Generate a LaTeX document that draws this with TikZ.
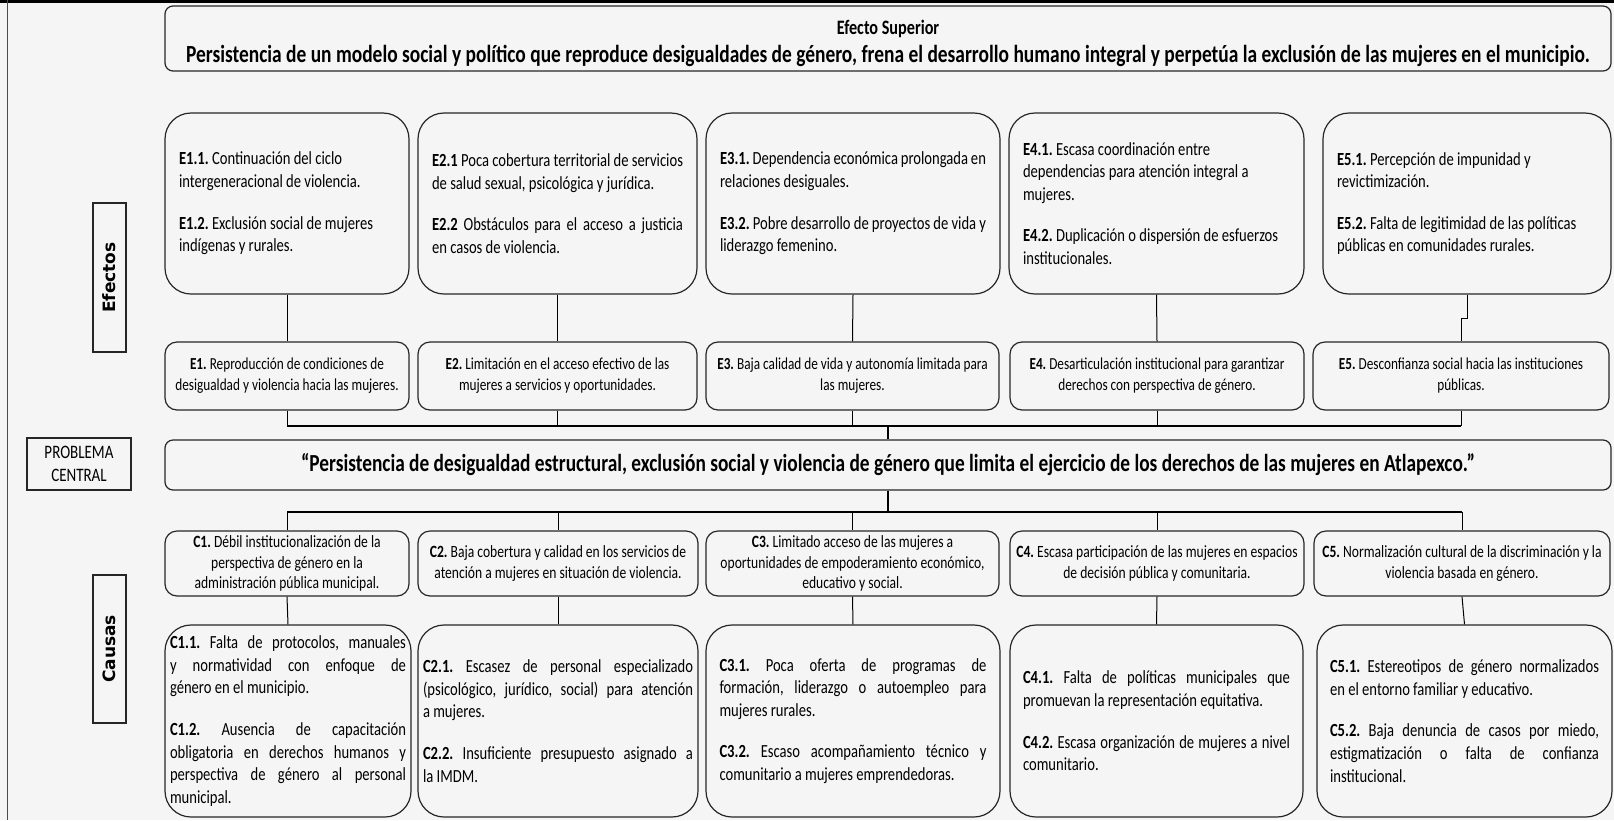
\documentclass[tikz,border=0pt]{standalone}
\usepackage{fontspec}
\setmainfont{Carlito}[FakeStretch=0.79]
\newfontfamily\sidefont{DejaVu Sans}
\setlength{\parindent}{0pt}
\frenchspacing
\newcommand{\gap}{\par\vspace{19pt}}
\tikzset{
  frame/.style={draw=black!85, line width=1.2pt, inner sep=0pt},
  widebox/.style={frame, rounded corners=8pt, minimum width=1446pt, text width=1430pt, align=flush center, font=\bfseries},
  subbox/.style={frame, rounded corners=26pt, align=justify, font=\fontsize{18.5}{22.6}\selectfont},
  rowbox/.style={frame, rounded corners=12pt, align=flush center, font=\fontsize{17.2}{20.8}\selectfont},
  effrow/.style={rowbox, minimum height=68pt, font=\fontsize{16.8}{21}\selectfont},
  sidebox/.style={frame, rotate=90, minimum height=33pt, font=\sidefont\bfseries\fontsize{17}{20}\selectfont},
  link/.style={black, line width=1pt},
  bar/.style={black, line width=2.6pt},
}
\begin{document}
\begin{tikzpicture}[x=1pt,y=-1pt]
  \useasboundingbox (0,0) rectangle (1614,820);
  \fill[black!4] (0,0) rectangle (1614,820);
  \fill[black] (0,0) rectangle (1614,3);
  \draw[black!70, line width=1pt] (7,0) -- (7,820);
  %% efecto superior
  \node[widebox, minimum height=65pt] (sup) at (888,38.5)
    {{\fontsize{20.5}{24}\selectfont\rule{0pt}{24pt}Efecto Superior\par}
     {\fontsize{24.6}{28}\selectfont Persistencia de un modelo social y político que reproduce desigualdades de género, frena el desarrollo humano integral y perpetúa la exclusión de las mujeres en el municipio.\par}};
  %% side labels
  \node[sidebox, minimum width=149pt] (lefx) at (109.5,277.5) {Efectos};
  \node[sidebox, minimum width=148pt] (lcau) at (109.5,649) {Causas};
  \node[frame, minimum width=104pt, minimum height=52pt, align=center, font=\fontsize{19}{23}\selectfont] (lprob) at (79,464) {PROBLEMA\\CENTRAL};
  %% efectos indirectos
  \node[subbox, minimum width=244pt, minimum height=181pt, text width=216pt] (ei1) at (287,203.5)
    {\textbf{E1.1.} Continuación del ciclo\\ intergeneracional de violencia.\gap
     \textbf{E1.2.} Exclusión social de mujeres\\ indígenas y rurales.};
  \node[subbox, minimum width=279pt, minimum height=181pt, text width=251pt] (ei2) at (557.5,203.5)
    {\textbf{E2.1} Poca cobertura territorial de servicios\\ de salud sexual, psicológica y jurídica.\gap
     \textbf{E2.2} Obstáculos para el acceso a justicia\linebreak en casos de violencia.};
  \node[subbox, minimum width=294pt, minimum height=181pt, text width=266pt] (ei3) at (853,203.5)
    {\textbf{E3.1.} Dependencia económica prolongada en\\ relaciones desiguales.\gap
     \textbf{E3.2.} Pobre desarrollo de proyectos de vida y\\ liderazgo femenino.};
  \node[subbox, minimum width=295pt, minimum height=181pt, text width=267pt] (ei4) at (1156.5,203.5)
    {\textbf{E4.1.} Escasa coordinación entre\\ dependencias para atención integral a\\ mujeres.\gap
     \textbf{E4.2.} Duplicación o dispersión de esfuerzos\\ institucionales.};
  \node[subbox, minimum width=288pt, minimum height=181pt, text width=260pt] (ei5) at (1467,203.5)
    {\textbf{E5.1.} Percepción de impunidad y\\ revictimización.\gap
     \textbf{E5.2.} Falta de legitimidad de las políticas\\ públicas en comunidades rurales.};
  %% efectos directos
  \node[effrow, minimum width=244pt, text width=238pt] (ed1) at (287,376)
    {\textbf{E1.} Reproducción de condiciones de\\ desigualdad y violencia hacia las mujeres.};
  \node[effrow, minimum width=279pt, text width=271pt] (ed2) at (557.5,376)
    {\textbf{E2.} Limitación en el acceso efectivo de las\\ mujeres a servicios y oportunidades.};
  \node[effrow, minimum width=293pt, text width=287pt] (ed3) at (852.5,376)
    {\textbf{E3.} Baja calidad de vida y autonomía limitada para\\ las mujeres.};
  \node[effrow, minimum width=294pt, text width=286pt] (ed4) at (1157,376)
    {\textbf{E4.} Desarticulación institucional para garantizar\\ derechos con perspectiva de género.};
  \node[effrow, minimum width=296pt, text width=288pt] (ed5) at (1461,376)
    {\textbf{E5.} Desconfianza social hacia las instituciones\\ públicas.};
  %% problema central
  \node[widebox, minimum height=50pt, font=\bfseries\fontsize{24.5}{29}\selectfont] (prob) at (888,465)
    {“Persistencia de desigualdad estructural, exclusión social y violencia de género que limita el ejercicio de los derechos de las mujeres en Atlapexco.”};
  %% causas directas
  \node[rowbox, minimum width=244pt, minimum height=65pt, text width=238pt] (cd1) at (287,563.5)
    {\textbf{C1.} Débil institucionalización de la\\ perspectiva de género en la\\ administración pública municipal.};
  \node[rowbox, minimum width=280pt, minimum height=65pt, text width=274pt] (cd2) at (558,563.5)
    {\textbf{C2.} Baja cobertura y calidad en los servicios de\\ atención a mujeres en situación de violencia.};
  \node[rowbox, minimum width=293pt, minimum height=65pt, text width=287pt] (cd3) at (852.5,563.5)
    {\textbf{C3.} Limitado acceso de las mujeres a\\ oportunidades de empoderamiento económico,\\ educativo y social.};
  \node[rowbox, minimum width=294pt, minimum height=65pt, text width=288pt] (cd4) at (1157,563.5)
    {\textbf{C4.} Escasa participación de las mujeres en espacios\\ de decisión pública y comunitaria.};
  \node[rowbox, minimum width=296pt, minimum height=65pt, text width=290pt] (cd5) at (1462,563.5)
    {\textbf{C5.} Normalización cultural de la discriminación y la\\ violencia basada en género.};
  %% causas indirectas
  \node[subbox, minimum width=246pt, minimum height=192pt, text width=236pt] (ci1) at (288,721)
    {\textbf{C1.1.} Falta de protocolos, manuales\linebreak y normatividad con enfoque de\linebreak género en el municipio.\gap
     \textbf{C1.2.} Ausencia de capacitación\linebreak obligatoria en derechos humanos y\linebreak perspectiva de género al personal\linebreak municipal.};
  \node[subbox, minimum width=280pt, minimum height=192pt, text width=270pt] (ci2) at (558,721)
    {\textbf{C2.1.} Escasez de personal especializado\linebreak (psicológico, jurídico, social) para atención\linebreak a mujeres.\gap
     \textbf{C2.2.} Insuficiente presupuesto asignado a\linebreak la IMDM.};
  \node[subbox, minimum width=294pt, minimum height=192pt, text width=267pt] (ci3) at (853,721)
    {\textbf{C3.1.} Poca oferta de programas de\linebreak formación, liderazgo o autoempleo para\linebreak mujeres rurales.\gap
     \textbf{C3.2.} Escaso acompañamiento técnico y\linebreak comunitario a mujeres emprendedoras.};
  \node[subbox, minimum width=293pt, minimum height=192pt, text width=267pt] (ci4) at (1156.5,721)
    {\textbf{C4.1.} Falta de políticas municipales que\linebreak promuevan la representación equitativa.\gap
     \textbf{C4.2.} Escasa organización de mujeres a nivel\linebreak comunitario.};
  \node[subbox, minimum width=295pt, minimum height=192pt, text width=269pt] (ci5) at (1464.5,721)
    {\textbf{C5.1.} Estereotipos de género normalizados\linebreak en el entorno familiar y educativo.\gap
     \textbf{C5.2.} Baja denuncia de casos por miedo,\linebreak estigmatización o falta de confianza\linebreak institucional.};
  %% connectors
  \coordinate (topbar) at (0,426);
  \coordinate (lowbar) at (0,512);
  \foreach \i in {1,...,4} \draw[link] (ei\i.south) -- (ed\i.north);
  \draw[link] (ei5.south) -- ++(0,24) -| (ed5.north);
  \foreach \i in {1,...,5} \draw[link] (ed\i.south) -- (ed\i.south |- topbar);
  \draw[bar] (ed1.south |- topbar) -- (ed5.south |- topbar);
  \draw[bar] (prob.north) -- (prob.north |- topbar);
  \draw[bar] (prob.south) -- (prob.south |- lowbar);
  \draw[bar] (cd1.north |- lowbar) -- (cd5.north |- lowbar);
  \foreach \i in {1,...,5} \draw[link] (cd\i.north |- lowbar) -- (cd\i.north);
  \foreach \i in {1,...,5} \draw[link] (cd\i.south) -- (ci\i.north);
\end{tikzpicture}
\end{document}
